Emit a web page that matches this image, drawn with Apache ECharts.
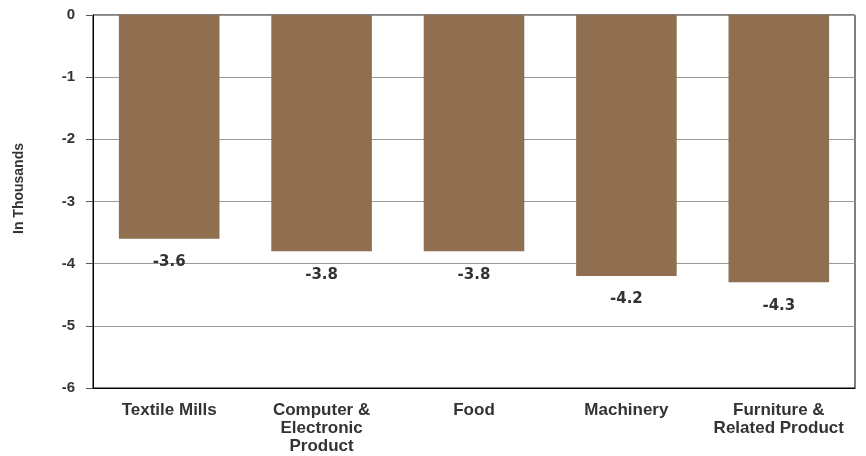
<!DOCTYPE html>
<html>
<head>
<meta charset="utf-8">
<script src="https://cdn.jsdelivr.net/npm/echarts@6/dist/echarts.min.js"></script>
<style>
  html, body { margin: 0; padding: 0; background: #fff; }
  #main { width: 866px; height: 456px; }
</style>
</head>
<body>
<div id="main"></div>
<script>
// industries and job change (thousands)
const categories = ['Textile Mills', 'Computer &\nElectronic\nProduct', 'Food', 'Machinery', 'Furniture &\nRelated Product'];
const values = [-3.6, -3.8, -3.8, -4.2, -4.3];

const chart = echarts.init(document.getElementById('main'));

chart.setOption({
  animation: false,
  grid: {
    left: 93, right: 11, top: 15, bottom: 68,
    show: true, borderColor: '#000', borderWidth: 1
  },
  xAxis: {
    type: 'category',
    data: categories,
    axisLine: { onZero: false, lineStyle: { color: '#000' } },
    axisTick: { show: false },
    axisLabel: {
      color: '#333', fontWeight: 'bold', fontSize: 17,
      fontFamily: 'Liberation Sans, Arial', lineHeight: 18, margin: 13,
      interval: 0
    }
  },
  yAxis: {
    type: 'value',
    min: -6, max: 0, interval: 1,
    name: 'In Thousands',
    nameLocation: 'middle',
    nameGap: 67,
    nameTextStyle: {
      color: '#333', fontWeight: 'bold', fontSize: 14,
      fontFamily: 'Liberation Sans, Arial', padding: [0, 0, 0, 26]
    },
    axisLine: { show: true, lineStyle: { color: '#000' } },
    axisTick: { show: true, length: 7, lineStyle: { color: '#555' } },
    splitLine: { lineStyle: { color: '#999' } },
    axisLabel: {
      color: '#333', fontWeight: 'bold', fontSize: 15,
      fontFamily: 'Liberation Sans, Arial', margin: 18
    }
  },
  series: [{
    type: 'bar',
    data: values,
    barWidth: '66%',
    itemStyle: { color: '#8F6F50' },
    label: {
      show: true,
      position: 'bottom',
      distance: 16,
      color: '#333',
      fontWeight: 'bold',
      fontSize: 15,
      fontFamily: 'DejaVu Sans, Verdana',
      formatter: p => p.value.toFixed(1)
    }
  }]
});
</script>
</body>
</html>
